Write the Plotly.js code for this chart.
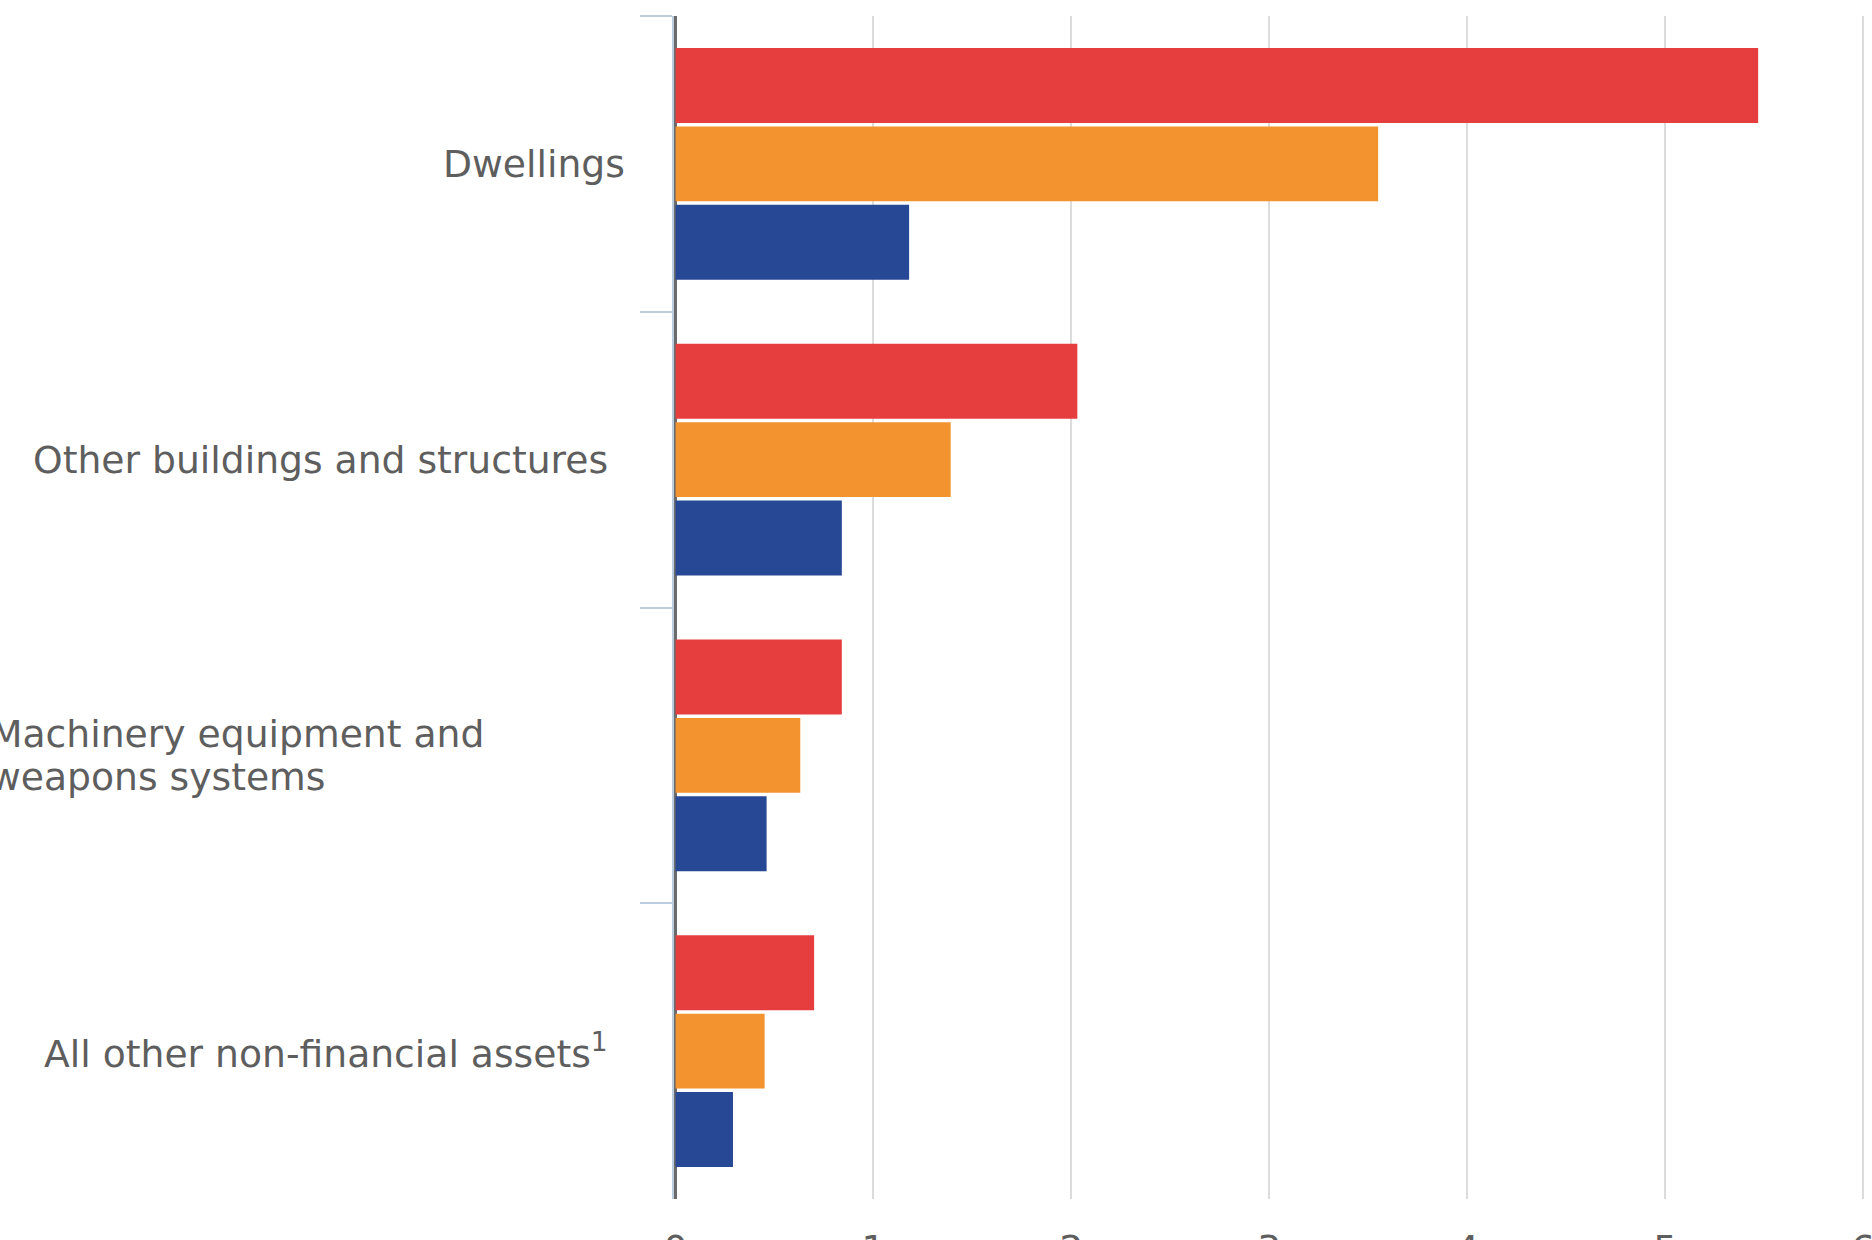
<!DOCTYPE html>
<html>
<head>
<meta charset="utf-8">
<script src="https://cdn.plot.ly/plotly-3.0.1.min.js"></script>
<style>
  html, body { margin: 0; padding: 0; background: #ffffff; overflow: hidden; }
  #chart { width: 1872px; height: 1240px; }
</style>
</head>
<body>
<div id="chart"></div>
<script>
// ---- data ----
const categories = [
  "Dwellings",
  "Other buildings and structures",
  "Machinery equipment and weapons systems",
  "All other non-financial assets"
];
const categoryLabels = [
  "Dwellings",
  "Other buildings and structures",
  "Machinery equipment and<br>weapons systems",
  "All other non-financial assets<sup>1</sup>"
];
const seriesNames = ["Series 1", "Series 2", "Series 3"];
const redValues    = [5.47, 2.03, 0.84, 0.70];
const orangeValues = [3.55, 1.39, 0.63, 0.45];
const blueValues   = [1.18, 0.84, 0.46, 0.29];
const xTickValues  = [0, 1, 2, 3, 4, 5, 6];

// ---- styles ----
const colors = ["#E63E3F", "#F3932F", "#274894"];
const labelFont = { family: "DejaVu Sans", size: 37.7, color: "#5e5e5e" };
const lineSpacing = 43;

const allValues = [redValues, orangeValues, blueValues];
const traces = allValues.map((vals, i) => ({
  type: "bar",
  orientation: "h",
  name: seriesNames[i],
  x: vals,
  y: categories,
  marker: { color: colors[i], line: { width: 0 } },
  hoverinfo: "x+y"
}));

// label placement (pixel offsets from the plot's left edge)
const labelPlacement = [
  { anchor: "right", shift: -47 },
  { anchor: "right", shift: -64 },
  { anchor: "left",  shift: -686 },
  { anchor: "right", shift: -64 }
];

const annotations = [];
categories.forEach((c, i) => {
  const lines = categoryLabels[i].split("<br>");
  lines.forEach((ln, j) => {
    annotations.push({
      xref: "paper", x: 0,
      yref: "y", y: c,
      text: ln,
      showarrow: false,
      xanchor: labelPlacement[i].anchor,
      yanchor: "middle",
      align: labelPlacement[i].anchor,
      xshift: labelPlacement[i].shift,
      yshift: ((lines.length - 1) / 2 - j) * lineSpacing,
      font: labelFont
    });
  });
});

const layout = {
  width: 1872,
  height: 1240,
  margin: { l: 674, r: 5, t: 16, b: 41, pad: 0 },
  paper_bgcolor: "#ffffff",
  plot_bgcolor: "#ffffff",
  showlegend: false,
  barmode: "group",
  bargap: 0.205,
  bargroupgap: 0.045,
  xaxis: {
    range: [-0.008, 6.02],
    tickmode: "array",
    tickvals: xTickValues,
    ticktext: xTickValues.map(String),
    showgrid: true,
    gridcolor: "#dcdcdc",
    gridwidth: 2,
    zeroline: true,
    zerolinecolor: "#6b6b6b",
    zerolinewidth: 2.5,
    showline: false,
    ticks: "",
    ticklabelstandoff: 24,
    ticklabeloverflow: "allow",
    tickfont: labelFont,
    automargin: false,
    fixedrange: true
  },
  yaxis: {
    type: "category",
    categoryorder: "array",
    categoryarray: categories,
    range: [3.5, -0.5],
    showticklabels: false,
    ticks: "outside",
    tickson: "boundaries",
    ticklen: 32,
    tickwidth: 2,
    tickcolor: "#bccde0",
    showline: true,
    linecolor: "#bccde0",
    linewidth: 2,
    showgrid: false,
    zeroline: false,
    automargin: false,
    fixedrange: true
  },
  annotations: annotations
};

Plotly.newPlot("chart", traces, layout, { staticPlot: true, displayModeBar: false });
</script>
</body>
</html>
